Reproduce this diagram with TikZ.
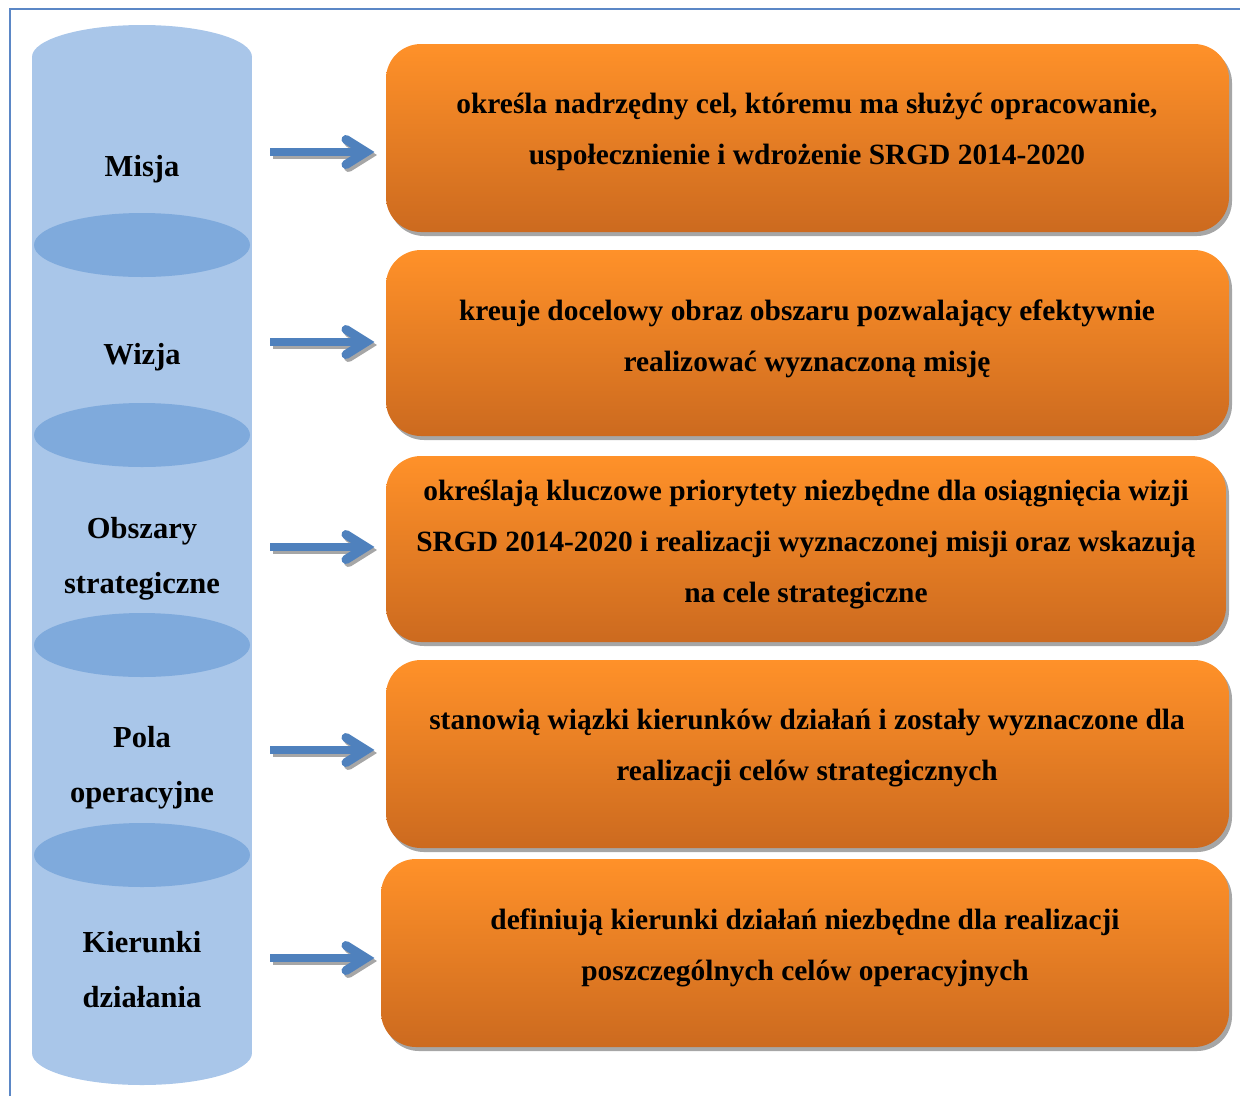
\documentclass[tikz,border=0pt]{standalone}
\usepackage{fontspec}
\setmainfont{Liberation Serif}
\usetikzlibrary{shadows}
\definecolor{cyl}{HTML}{A9C6E9}
\definecolor{cyld}{HTML}{7FAADC}
\definecolor{arrb}{HTML}{4F81BD}
\definecolor{arrsh}{HTML}{A6A6A6}
\definecolor{orT}{HTML}{FF9129}
\definecolor{orB}{HTML}{CC6A1F}
\definecolor{frameb}{HTML}{5B87C6}
\begin{document}
\begin{tikzpicture}[x=1pt,y=-1pt,
  lbl/.style={font=\fontsize{30.5}{55}\selectfont\bfseries, align=center, text=black, inner sep=0pt},
  obox/.style={rounded corners=35pt, top color=orT, bottom color=orB, draw=none, inner sep=0pt,
    drop shadow={shadow xshift=3pt, shadow yshift=-4pt, fill=arrsh, opacity=1}},
  otext/.style={font=\fontsize{29.4}{51}\selectfont\bfseries, align=center, text=black, inner sep=0pt},
  shaft/.style={line width=8pt, line cap=butt},
  chev/.style={line width=9pt, line cap=round, line join=miter},
  sh/.style={arrsh, transform canvas={shift={(2.5pt,-3pt)}}}
]
\useasboundingbox (0,0) rectangle (1240,1096);
% frame
\draw[frameb, line width=2pt] (10,1096) -- (10,9) -- (1240,9);
% cylinder stack
\fill[cyl] (32,57) rectangle (252,1053);
\fill[cyl] (142,57) ellipse[x radius=110, y radius=32];
\fill[cyl] (142,1053) ellipse[x radius=110, y radius=32];
\foreach \yy in {245,435,645,855}
  \fill[cyld] (142,\yy) ellipse[x radius=108, y radius=32];
% cylinder labels
\node[lbl] (c1) at (142,169) {Misja};
\node[lbl] (c2) at (142,357) {Wizja};
\node[lbl] (c3) at (142,559) {Obszary\\strategiczne};
\node[lbl] (c4) at (142,768) {Pola\\operacyjne};
\node[lbl] (c5) at (142,970) {Kierunki\\działania};
% boxes
\node[obox, minimum width=843pt, minimum height=188pt] (b1) at (807.5,138) {};
\node[obox, minimum width=843pt, minimum height=186pt] (b2) at (807.5,343) {};
\node[obox, minimum width=840pt, minimum height=186pt] (b3) at (806,549) {};
\node[obox, minimum width=843pt, minimum height=188pt] (b4) at (807.5,754) {};
\node[obox, minimum width=848pt, minimum height=188pt] (b5) at (805,953) {};
% box texts
\node[otext] (t1) at (807,132) {określa nadrzędny cel, któremu ma służyć opracowanie,\\uspołecznienie i wdrożenie SRGD 2014-2020};
\node[otext] (t2) at (807,338.5) {kreuje docelowy obraz obszaru pozwalający efektywnie\\realizować wyznaczoną misję};
\node[otext] (t3) at (806,545) {określają kluczowe priorytety niezbędne dla osiągnięcia wizji\\SRGD 2014-2020 i realizacji wyznaczonej misji oraz wskazują\\na cele strategiczne};
\node[otext] (t4) at (807,748) {stanowią wiązki kierunków działań i zostały wyznaczone dla\\realizacji celów strategicznych};
\node[otext] (t5) at (805,947.5) {definiują kierunki działań niezbędne dla realizacji\\poszczególnych celów operacyjnych};
% arrows
\foreach \i/\yy in {1/152,2/342,3/547,4/750,5/958}{
  \coordinate (s\i) at (270,\yy);
  \coordinate (e\i) at (366,\yy);
  \draw[shaft, sh] (s\i) -- ([xshift=-6pt]e\i);
  \draw[chev, sh] ([shift={(-20,-12.5)}]e\i) -- (e\i) -- ([shift={(-20,12.5)}]e\i);
  \draw[shaft, arrb] (s\i) -- ([xshift=-6pt]e\i);
  \draw[chev, arrb] ([shift={(-20,-12.5)}]e\i) -- (e\i) -- ([shift={(-20,12.5)}]e\i);
}
\end{tikzpicture}
\end{document}
